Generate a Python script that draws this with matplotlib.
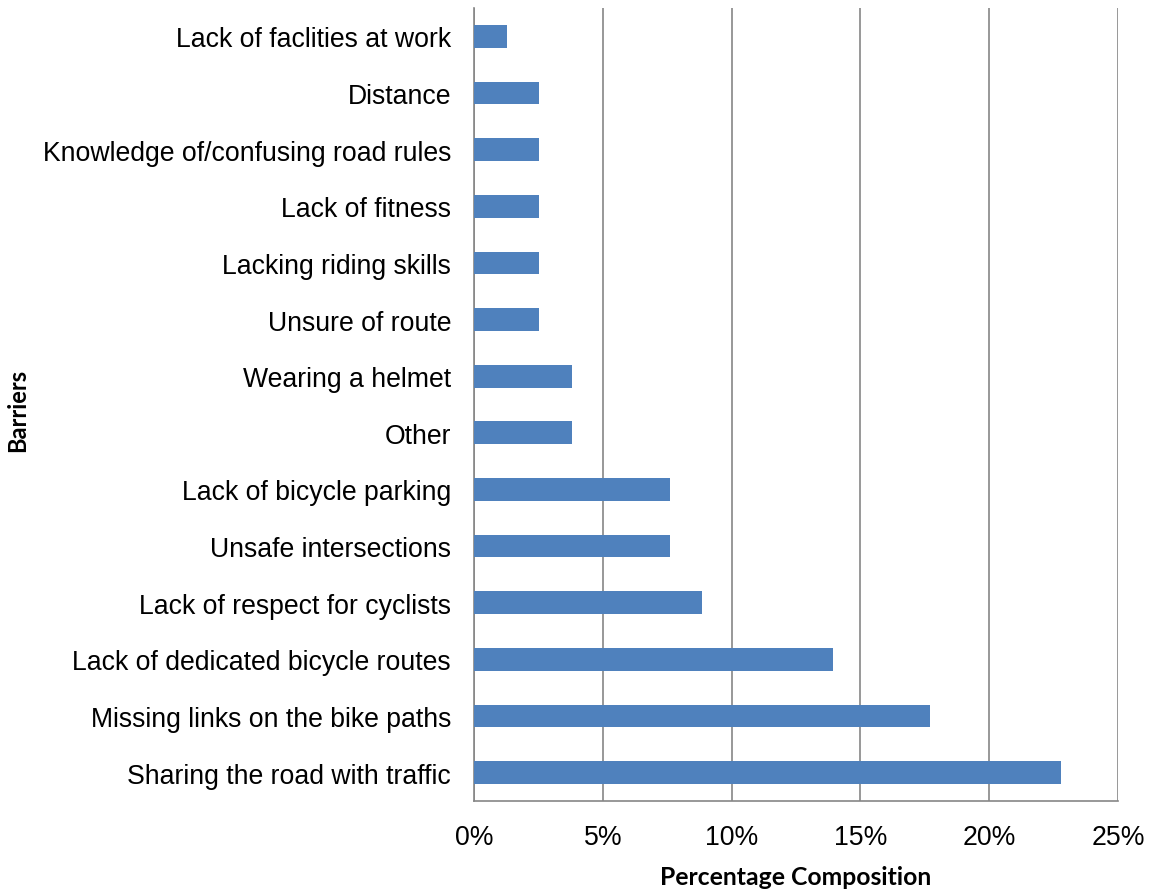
import matplotlib
matplotlib.use("Agg")
import matplotlib.pyplot as plt
from matplotlib.ticker import FuncFormatter, MultipleLocator

# Survey responses: barriers to cycling (top to bottom as listed)
barriers = [
    "Lack of faclities at work",
    "Distance",
    "Knowledge of/confusing road rules",
    "Lack of fitness",
    "Lacking riding skills",
    "Unsure of route",
    "Wearing a helmet",
    "Other",
    "Lack of bicycle parking",
    "Unsafe intersections",
    "Lack of respect for cyclists",
    "Lack of dedicated bicycle routes",
    "Missing links on the bike paths",
    "Sharing the road with traffic",
]
share = [1.27, 2.53, 2.53, 2.53, 2.53, 2.53, 3.80, 3.80,
         7.59, 7.59, 8.86, 13.92, 17.72, 22.78]

bar_color = "#4F81BD"
grid_color = "#868686"

fig = plt.figure(figsize=(11.55, 8.95), dpi=100)
ax = fig.add_axes([474 / 1155, 1 - 802 / 895, (1118 - 474) / 1155, (802 - 9) / 895])

y = list(range(len(barriers)))
ax.barh(y, share, height=0.4, color=bar_color, zorder=3)
ax.set_ylim(len(barriers) - 0.5, -0.5)
ax.set_yticks(y)
ax.set_yticklabels(barriers, fontfamily="Liberation Sans", fontsize=19.2)

ax.set_xlim(0, 25)
ax.xaxis.set_major_locator(MultipleLocator(5))
ax.xaxis.set_major_formatter(FuncFormatter(lambda v, _: f"{v:.0f}%"))
for lbl in ax.get_xticklabels():
    lbl.set_fontfamily("Liberation Sans")
    lbl.set_fontsize(19.2)

ax.grid(axis="x", color=grid_color, linewidth=1.2, zorder=0)
ax.tick_params(axis="both", length=0)
ax.tick_params(axis="y", pad=16.5)
ax.tick_params(axis="x", pad=16.5)

for side in ("top", "right"):
    ax.spines[side].set_visible(False)
for side in ("left", "bottom"):
    ax.spines[side].set_color(grid_color)
    ax.spines[side].set_linewidth(1.2)

ax.set_xlabel("Percentage Composition", fontfamily="Lato", fontweight="bold",
              fontsize=17.8, labelpad=11)
fig.text(18 / 1155, 1 - 410 / 895, "Barriers", rotation=90, ha="center", va="center",
         fontfamily="Lato", fontweight="bold", fontsize=17)

fig.savefig("out.png", dpi=100, facecolor="white")
